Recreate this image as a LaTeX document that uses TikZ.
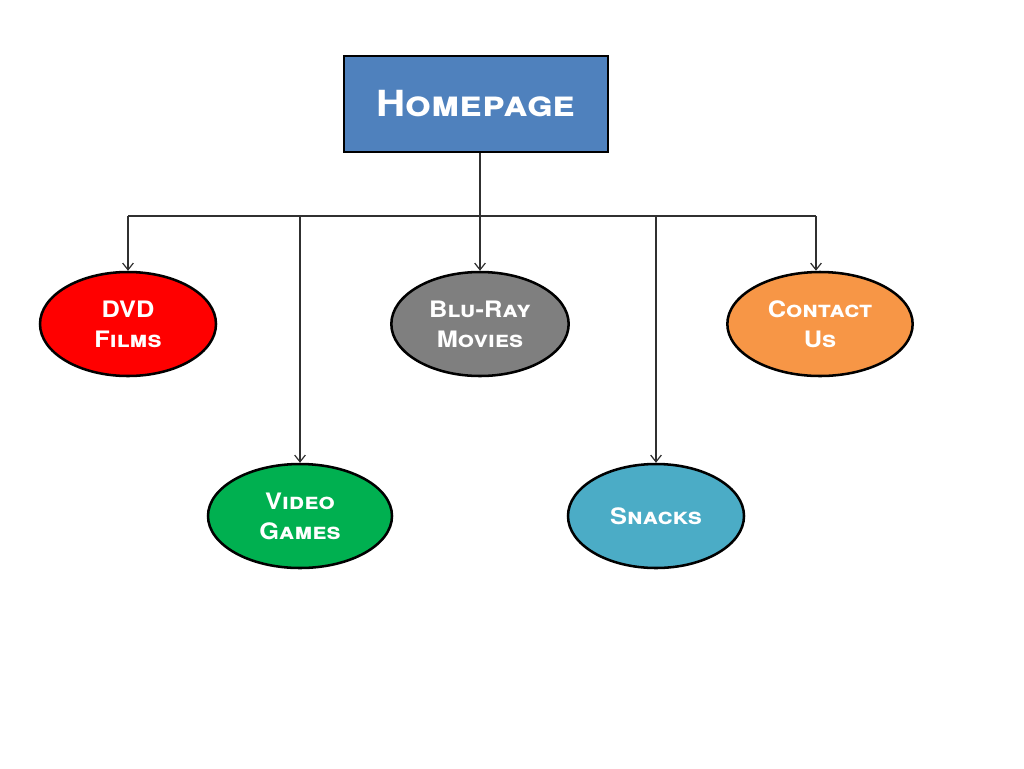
\documentclass[tikz,border=0pt]{standalone}
\usepackage{fontspec}
\setmainfont[FakeStretch=1.12]{TeX Gyre Heros}
\usetikzlibrary{shapes.geometric,arrows.meta}
\definecolor{hpblue}{HTML}{4F81BD}
\definecolor{dvdred}{HTML}{FF0000}
\definecolor{blugray}{HTML}{7F7F7F}
\definecolor{contorange}{HTML}{F79646}
\definecolor{vidgreen}{HTML}{00B050}
\definecolor{snackblue}{HTML}{4BACC6}
\definecolor{connline}{HTML}{303030}
\begin{document}
\begin{tikzpicture}[x=0.75pt,y=-0.75pt,
  lbl/.style={font=\bfseries\scshape\fontsize{17}{22.5}\selectfont, text=white, align=center},
  bubble/.style={ellipse, draw=black, line width=1.9pt, inner sep=0pt, minimum height=78pt, lbl},
  conn/.style={draw=connline, line width=0.9pt},
  arr/.style={conn, -{Straight Barb[length=5pt,width=8pt]}}]
\useasboundingbox (0,0) rectangle (1024,768);
\fill[white] (0,0) rectangle (1024,768);
\node[draw=black, line width=1.9pt, fill=hpblue, minimum width=198pt, minimum height=72pt, inner sep=0pt,
  font=\bfseries\scshape\fontsize{27}{30}\selectfont, text=white] (hp) at (476,104) {Homepage};
\node[bubble, fill=dvdred, minimum width=132pt] (dvd) at (128,324) {DVD\\Films};
\node[bubble, fill=blugray, minimum width=133pt] (blu) at (480,324) {Blu-Ray\\Movies};
\node[bubble, fill=contorange, minimum width=139pt] (con) at (820,324) {Contact\\Us};
\node[bubble, fill=vidgreen, minimum width=138pt] (vid) at (300,516) {Video\\Games};
\node[bubble, fill=snackblue, minimum width=132pt] (snk) at (656,516) {Snacks};
\coordinate (jB) at (480,216);
\coordinate (jD) at (dvd.north |- jB);
\coordinate (jV) at (vid.north |- jB);
\coordinate (jS) at (snk.north |- jB);
\coordinate (jC) at (816,216);
\draw[conn] (hp.south -| jB) -- (jB);
\draw[conn] (jD) -- (jC);
\draw[arr] (jD) -- (dvd.north);
\draw[arr] (jV) -- (vid.north);
\draw[arr] (jB) -- (blu.north);
\draw[arr] (jS) -- (snk.north);
\draw[arr] (jC) -- (jC |- con.north);
\end{tikzpicture}
\end{document}
